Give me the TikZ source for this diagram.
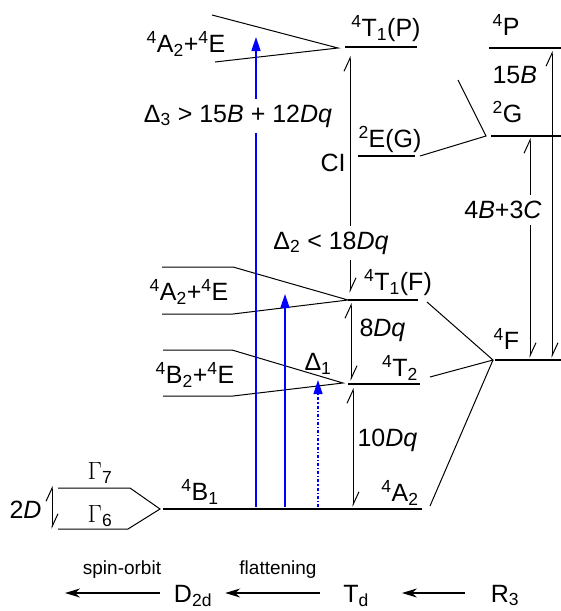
\documentclass[tikz,border=0pt]{standalone}
\usepackage{fontspec}
\setmainfont{Liberation Sans}
\usetikzlibrary{arrows.meta, positioning}

\begin{document}
\begin{tikzpicture}[x=1pt, y=-1pt, font=\fontsize{25}{30}\selectfont,
    lvl/.style={line width=1.6pt},
    corr/.style={line width=1pt},
    gap/.style={line width=1pt, {Straight Barb[left,length=13pt,width=12pt]}-{Straight Barb[left,length=13pt,width=12pt]}},
    trans/.style={blue, line width=1.6pt, -{Triangle[length=14pt,width=9pt]}},
    blank/.style={fill=white, inner xsep=2pt, inner ysep=6pt},
    small/.style={font=\fontsize{19}{23}\selectfont},
    sym/.style={text height=18pt, text depth=0pt, inner sep=0pt},
    desc/.style={-{Stealth[length=15pt,width=9pt]}, line width=1.4pt}]
  \useasboundingbox (0,0) rectangle (561,611);

  % free ion terms (R3)
  \coordinate (p-l) at (489,48);  \coordinate (p-r) at (561,48);
  \coordinate (g-l) at (491,136); \coordinate (g-r) at (561,136);
  \coordinate (f-l) at (495,360); \coordinate (f-r) at (561,360);
  \coordinate (g-v) at (486,136); \coordinate (f-v) at (493,360);
  \coordinate (ci) at (458,80);
  \draw[lvl] (p-l) -- (p-r);
  \draw[lvl] (g-l) -- (g-r);
  \draw[lvl] (f-l) -- (f-r);
  \node[anchor=west] (lP) at (489,25) {\textsuperscript{4}P};
  \node[anchor=west] (l15B) at (489,75) {15\textit{B}};
  \node[anchor=west] (lG) at (489,112) {\textsuperscript{2}G};
  \node[anchor=west] (lF) at (490,339) {\textsuperscript{4}F};

  % Td levels
  \coordinate (t1p-l) at (345,47);  \coordinate (t1p-r) at (417,47);
  \coordinate (eg-l) at (358,156);  \coordinate (eg-r) at (415,156);
  \coordinate (t1f-l) at (348,300); \coordinate (t1f-r) at (418,300);
  \coordinate (t2-l) at (348,384);  \coordinate (t2-r) at (420,384);
  \coordinate (a2-l) at (350,509);  \coordinate (a2-r) at (422,509);
  \draw[lvl] (t1p-l) -- (t1p-r);
  \draw[lvl] (eg-l) -- (eg-r);
  \draw[lvl] (t1f-l) -- (t1f-r);
  \draw[lvl] (t2-l) -- (t2-r);
  \draw[lvl] (a2-l) -- (a2-r);
  \node (lT1P) at (386,29) {\textsuperscript{4}T\textsubscript{1}(P)};
  \node (lEG) at (390,139) {\textsuperscript{2}E(G)};
  \node (lT1F) at (398,283) {\textsuperscript{4}T\textsubscript{1}(F)};
  \node (lT2) at (400,368) {\textsuperscript{4}T\textsubscript{2}};
  \node (lA2) at (400,493) {\textsuperscript{4}A\textsubscript{2}};
  \node (lCI) at (333,163) {CI};

  % correlation R3 -> Td
  \draw[corr] (ci) -- (g-v) -- (420,156);
  \draw[corr] (427,302) -- (f-v) -- (430,377);
  \draw[corr] (430,506) -- (f-v);

  % D2d levels
  \draw[corr] (212,15) -- (338,48) -- (215,62);
  \draw[corr] (162,267) -- (233,267) -- (t1f-l) -- (233,314) -- (162,314);
  \draw[corr] (163,350) -- (232,350) -- (343,383) -- (233,396) -- (163,396);
  \draw[lvl] (163,509) -- (a2-l);
  \node (lAE1) at (186,44) {\textsuperscript{4}A\textsubscript{2}+\textsuperscript{4}E};
  \node (lAE2) at (189,292) {\textsuperscript{4}A\textsubscript{2}+\textsuperscript{4}E};
  \node (lBE) at (195,375) {\textsuperscript{4}B\textsubscript{2}+\textsuperscript{4}E};
  \node (lB1) at (200,492) {\textsuperscript{4}B\textsubscript{1}};

  % spin-orbit
  \draw[corr] (58,488) -- (130,488) -- (160,509) -- (128,529) -- (58,529);
  \node (lG7) at (100,473) {$\Gamma$\textsubscript{7}};
  \node (lG6) at (100,516) {$\Gamma$\textsubscript{6}};
  \node[anchor=east] (l2D) at (45,510) {2\textit{D}};
  \draw[gap] (52,529) -- (52,486);

  % gaps
  \draw[gap] (350,293) -- (350,56);
  \node[blank] (lD2) at (331,243) {Δ\textsubscript{2} < 18\textit{Dq}};
  \draw[gap] (351,381) -- (351,303);
  \node[anchor=west] (l8Dq) at (356,330) {8\textit{Dq}};
  \draw[gap] (353,507) -- (353,388);
  \node[anchor=west] (l10Dq) at (354,440) {10\textit{Dq}};
  \draw[gap] (530,358) -- (530,138);
  \node[blank] (lBC) at (503,210) {4\textit{B}+3\textit{C}};
  \draw[gap] (552,358) -- (552,51);

  % transitions
  \coordinate (b3) at (256,507); \coordinate (e3) at (256,37);
  \coordinate (b2) at (285,507); \coordinate (e2) at (285,294);
  \coordinate (b1) at (318,507); \coordinate (e1) at (318,380);
  \draw[trans] (b3) -- (e3);
  \draw[trans] (b2) -- (e2);
  \draw[trans, line width=1.2pt, dash dot] (b1) -- (e1);
  \node[blank] (lD3) at (238,116) {Δ\textsubscript{3} > 15\textit{B} + 12\textit{Dq}};
  \node (lD1) at (318,364) {Δ\textsubscript{1}};

  % symmetry descent
  \node[sym] (D2d) at (193,593) {D\textsubscript{2d}};
  \node[sym] (Td) at (356,593) {T\textsubscript{d}};
  \node[sym] (R3) at (505,593) {R\textsubscript{3}};
  \coordinate (so) at (65,593);
  \draw[desc] ([xshift=-14pt]D2d.west) -- (so);
  \draw[desc] ([xshift=-23pt]Td.west) -- ([xshift=13pt]D2d.east);
  \draw[desc] ([xshift=-26pt]R3.west) -- ([xshift=33pt]Td.east);
  \node[small] (lso) at (122,570) {spin-orbit};
  \node[small] (lfl) at (278,570) {flattening};
\end{tikzpicture}
\end{document}
